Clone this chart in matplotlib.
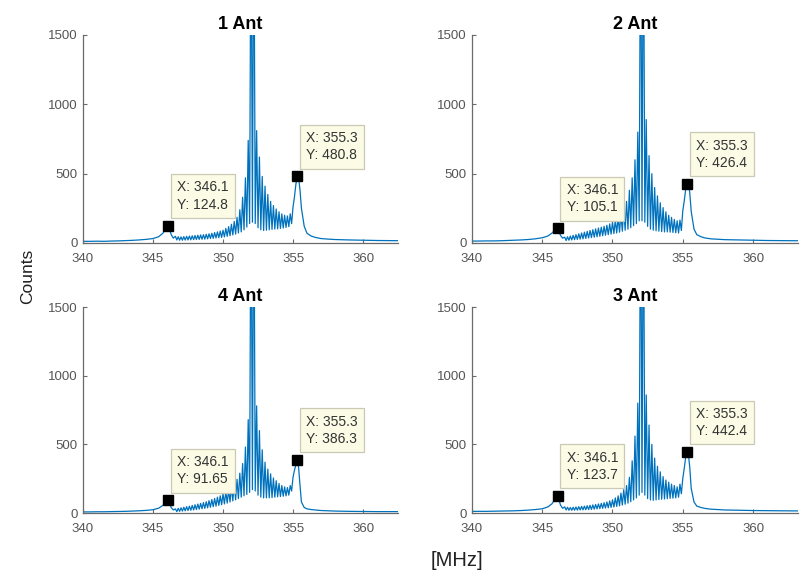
import numpy as np
import matplotlib
matplotlib.use("Agg")
import matplotlib.pyplot as plt

plt.rcParams["font.family"] = ["Liberation Sans", "DejaVu Sans"]

BLUE = "#0072BD"

# fringe comb: peaks every 0.2 MHz, troughs half way between
FRINGE_F = np.round(np.arange(346.6, 354.85, 0.2), 1)

LEFT_F = [340, 340.5, 341, 341.5, 342, 342.5, 343, 343.5, 344, 344.5, 345,
          345.4, 345.7, 345.9, 346.1, 346.3, 346.45]
RIGHT_F = [355.0, 355.1, 355.2, 355.3, 355.4, 355.5, 355.6, 355.8, 356.0,
           356.3, 356.6, 357, 357.5, 358, 359, 360, 361, 362, 363.5]

# ---- 1 Ant ----
left_1 = [12, 12, 13, 12, 14, 15, 17, 19, 22, 26, 32, 45, 70, 100, 124.8, 60, 35]
tops_1 = [48, 45, 44, 46, 48, 50, 52, 54, 56, 58, 60, 63, 66, 70, 75, 80, 86, 92,
          105, 118, 135, 155, 185, 240, 330, 470, 740, 2600, 2600, 810, 620, 480,
          410, 350, 300, 270, 245, 225, 210, 200, 195, 210]
bots_1 = [22, 20, 20, 21, 22, 23, 24, 25, 26, 27, 28, 30, 32, 34, 36, 38, 40, 44,
          48, 52, 58, 64, 72, 80, 95, 115, 140, 150, 140, 110, 95, 90, 92, 95,
          98, 100, 102, 105, 108, 112, 118, 140]
right_1 = [260, 330, 420, 480.8, 470, 380, 250, 120, 70, 50, 40, 32, 28, 25,
           22, 20, 18, 17, 16]

# ---- 2 Ant ----
left_2 = [14, 14, 15, 15, 16, 18, 20, 22, 25, 30, 38, 50, 72, 95, 105.1, 55, 35]
tops_2 = [42, 45, 50, 55, 60, 66, 72, 78, 84, 90, 96, 102, 108, 114, 120, 128,
          138, 150, 165, 185, 210, 250, 300, 380, 470, 600, 800, 2600, 2600, 890,
          630, 500, 400, 340, 290, 255, 225, 200, 185, 170, 160, 165]
bots_2 = [18, 20, 22, 24, 26, 28, 30, 33, 36, 39, 42, 45, 48, 52, 56, 60, 64, 68,
          72, 78, 85, 92, 100, 110, 125, 140, 160, 160, 150, 120, 100, 92, 88,
          85, 82, 80, 80, 78, 76, 74, 72, 90]
right_2 = [230, 300, 380, 426.4, 440, 360, 230, 100, 60, 45, 36, 30, 27, 24,
           22, 20, 18, 17, 16]

# ---- 4 Ant ----
left_4 = [8, 8, 9, 9, 10, 11, 12, 14, 16, 19, 24, 35, 55, 80, 91.65, 40, 22]
tops_4 = [30, 34, 38, 42, 46, 50, 55, 60, 65, 70, 76, 82, 90, 98, 106, 115, 125,
          140, 155, 170, 190, 215, 245, 290, 360, 480, 680, 2600, 2600, 780, 600,
          460, 370, 320, 285, 255, 235, 215, 200, 190, 185, 200]
bots_4 = [10, 12, 14, 16, 18, 20, 22, 25, 28, 31, 34, 38, 42, 46, 50, 55, 60, 66,
          72, 80, 88, 96, 105, 115, 125, 135, 150, 170, 160, 130, 115, 110, 110,
          110, 112, 115, 118, 120, 122, 125, 130, 160]
right_4 = [260, 310, 350, 386.3, 330, 200, 80, 40, 30, 25, 22, 18, 16, 14, 12,
           11, 10, 10, 10]

# ---- 3 Ant ----
left_3 = [12, 12, 12, 13, 14, 15, 16, 18, 21, 25, 31, 44, 68, 100, 123.7, 58, 34]
tops_3 = [45, 42, 40, 42, 44, 46, 48, 50, 53, 56, 59, 62, 66, 70, 75, 80, 88, 96,
          110, 125, 145, 170, 200, 260, 380, 560, 800, 2600, 2600, 860, 640, 500,
          400, 340, 300, 265, 240, 225, 210, 200, 190, 210]
bots_3 = [22, 20, 20, 20, 21, 22, 23, 24, 25, 26, 28, 30, 32, 34, 36, 38, 41, 44,
          48, 52, 58, 64, 72, 82, 95, 110, 130, 150, 130, 105, 95, 92, 95, 98,
          100, 102, 104, 106, 108, 110, 115, 140]
right_3 = [250, 320, 400, 442.4, 430, 330, 180, 80, 50, 40, 33, 28, 25, 22, 20,
           18, 17, 16, 15]

TITLES = ["1 Ant", "2 Ant", "4 Ant", "3 Ant"]
TIP_Y1 = [124.8, 105.1, 91.65, 123.7]
TIP_Y2 = [480.8, 426.4, 386.3, 442.4]
TIP_X1, TIP_X2 = 346.1, 355.3


def spectrum(left, tops, bots, right):
    comb_f, comb_v = [], []
    for f, t, b in zip(FRINGE_F, tops, bots):
        comb_f += [f, f + 0.1]
        comb_v += [t, b]
    return LEFT_F + comb_f + RIGHT_F, left + comb_v + right


series = [
    spectrum(left_1, tops_1, bots_1, right_1),
    spectrum(left_2, tops_2, bots_2, right_2),
    spectrum(left_4, tops_4, bots_4, right_4),
    spectrum(left_3, tops_3, bots_3, right_3),
]

fig = plt.figure(figsize=(8.02, 5.70), dpi=100)
fig.patch.set_facecolor("white")

rects = [
    [0.1035, 0.5737, 0.3928, 0.3649],
    [0.5885, 0.5737, 0.4065, 0.3649],
    [0.1035, 0.1000, 0.3928, 0.3614],
    [0.5885, 0.1000, 0.4065, 0.3614],
]
xmax = [362.5, 363.2, 362.5, 363.2]

tip_box = dict(boxstyle="square,pad=0.45", facecolor="#fbfbe6",
               edgecolor="#c9c9b6", linewidth=0.9)

for i, (x, y) in enumerate(series):
    ax = fig.add_axes(rects[i])
    ax.plot(x, y, color=BLUE, lw=0.9)
    ax.set_xlim(340, xmax[i])
    ax.set_ylim(0, 1500)
    ax.set_xticks([340, 345, 350, 355, 360])
    ax.set_yticks([0, 500, 1000, 1500])
    for s in ("top", "right"):
        ax.spines[s].set_visible(False)
    for s in ("left", "bottom"):
        ax.spines[s].set_color("#6a6a6a")
        ax.spines[s].set_linewidth(0.9)
    ax.tick_params(direction="in", length=3, width=0.8, color="#6a6a6a",
                   labelsize=9.5, labelcolor="#555555")
    ax.tick_params(axis="x", pad=7)
    ax.tick_params(axis="y", pad=4)
    ax.set_title(TITLES[i], fontsize=13, fontweight="bold", pad=4)

    for tx, ty in ((TIP_X1, TIP_Y1[i]), (TIP_X2, TIP_Y2[i])):
        ax.plot(tx, ty, "s", color="black", ms=6.5, clip_on=False)
        ax.annotate(f"X: {tx}\nY: {ty}", xy=(tx, ty), xytext=(9, 14),
                    textcoords="offset pixels", ha="left", va="bottom",
                    fontsize=10, color="#333333", bbox=tip_box,
                    linespacing=1.3)

fig.text(28 / 802, 1 - 276 / 570, "Counts", rotation=90, ha="center",
         va="center", fontsize=12.5, color="#222222")
fig.text(457 / 802, 1 - 560 / 570, "[MHz]", ha="center", va="center",
         fontsize=14.5, color="#222222")

fig.savefig("out.png", dpi=100, facecolor="white")
